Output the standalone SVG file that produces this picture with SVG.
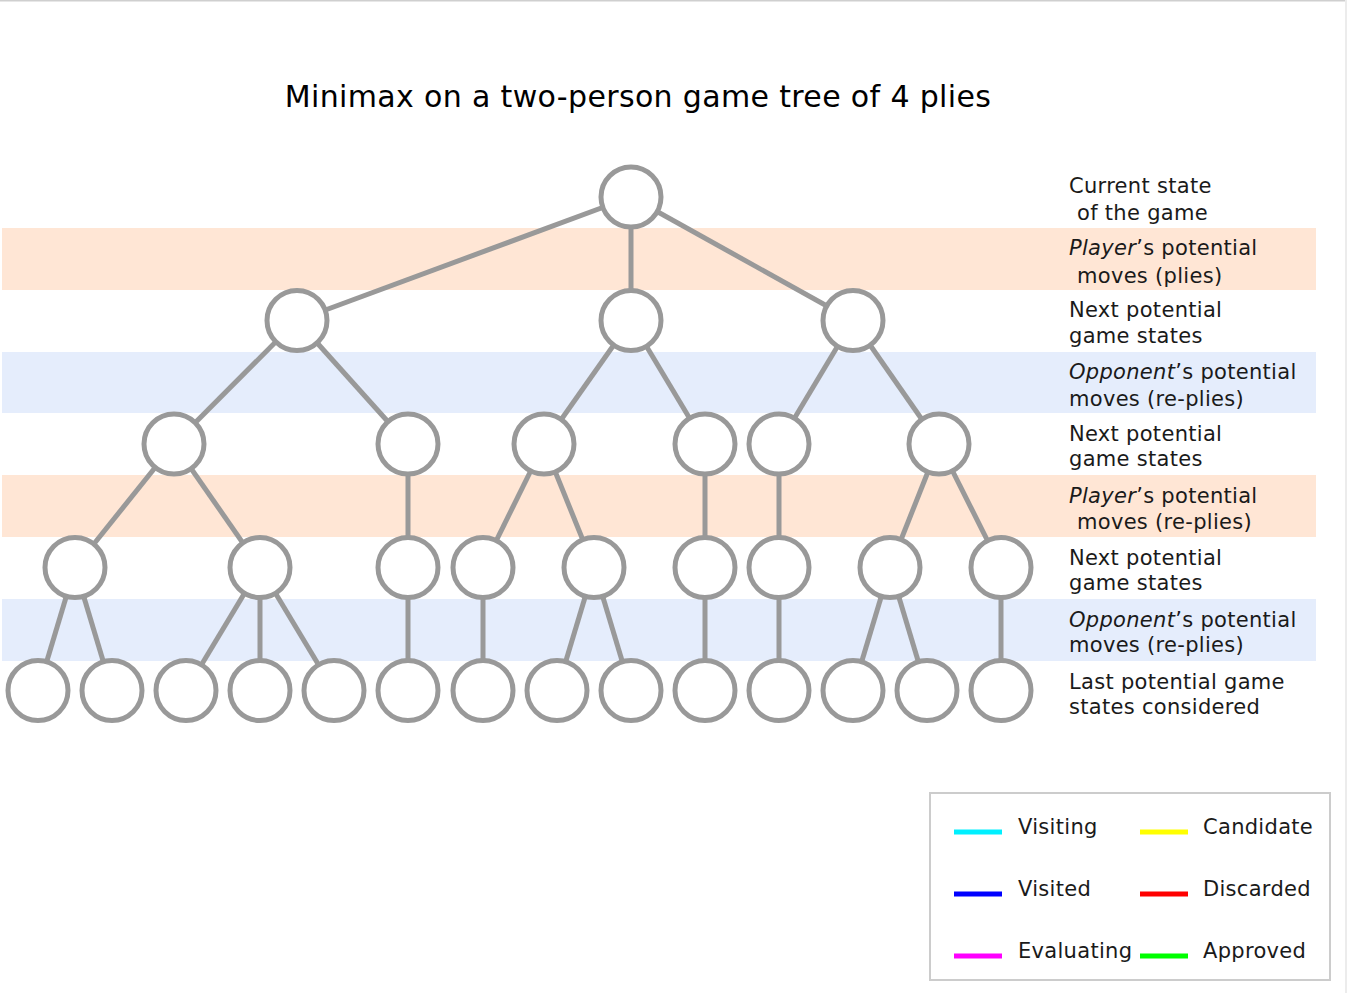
<svg xmlns="http://www.w3.org/2000/svg" width="1347" height="993" viewBox="0 0 1347 993">
<style>
.t{font-family:"DejaVu Sans",Verdana,sans-serif;font-size:21px;letter-spacing:0.3px;fill:#1a1a1a}
.title{font-family:"DejaVu Sans",Verdana,sans-serif;font-size:30px;letter-spacing:0.35px;fill:#000}
.i{font-style:italic}
.edge{stroke:#999;stroke-width:5;fill:none}
.node{fill:#fff;stroke:#999;stroke-width:5}
.orange{fill:#ffe6d5}
.blue{fill:#e5edfc}
.leg{stroke-width:5;fill:none}
</style>
<rect x="0" y="0" width="1347" height="993" fill="#fff"/>
<line x1="0" y1="0.5" x2="1345" y2="0.5" stroke="#cfcfcf" stroke-width="2"/>
<line x1="1346" y1="0" x2="1346" y2="993" stroke="#ececec" stroke-width="2"/>
<g id="bands">
<rect class="orange" x="2" y="228" width="1314" height="62"/>
<rect class="blue" x="2" y="352" width="1314" height="61"/>
<rect class="orange" x="2" y="475" width="1314" height="62"/>
<rect class="blue" x="2" y="599" width="1314" height="62"/>
</g>
<text id="title" class="title" x="638" y="107" text-anchor="middle">Minimax on a two-person game tree of 4 plies</text>
<g id="connectors">
<line class="edge" x1="631" y1="197" x2="297" y2="320.5"/>
<line class="edge" x1="631" y1="197" x2="631" y2="320.5"/>
<line class="edge" x1="631" y1="197" x2="853" y2="320.5"/>
<line class="edge" x1="297" y1="320.5" x2="174" y2="444"/>
<line class="edge" x1="297" y1="320.5" x2="408" y2="444"/>
<line class="edge" x1="631" y1="320.5" x2="544" y2="444"/>
<line class="edge" x1="631" y1="320.5" x2="705" y2="444"/>
<line class="edge" x1="853" y1="320.5" x2="779" y2="444"/>
<line class="edge" x1="853" y1="320.5" x2="939" y2="444"/>
<line class="edge" x1="174" y1="444" x2="75" y2="567.5"/>
<line class="edge" x1="174" y1="444" x2="260" y2="567.5"/>
<line class="edge" x1="408" y1="444" x2="408" y2="567.5"/>
<line class="edge" x1="544" y1="444" x2="483" y2="567.5"/>
<line class="edge" x1="544" y1="444" x2="594" y2="567.5"/>
<line class="edge" x1="705" y1="444" x2="705" y2="567.5"/>
<line class="edge" x1="779" y1="444" x2="779" y2="567.5"/>
<line class="edge" x1="939" y1="444" x2="890" y2="567.5"/>
<line class="edge" x1="939" y1="444" x2="1001" y2="567.5"/>
<line class="edge" x1="75" y1="567.5" x2="38" y2="690.5"/>
<line class="edge" x1="75" y1="567.5" x2="112" y2="690.5"/>
<line class="edge" x1="260" y1="567.5" x2="186" y2="690.5"/>
<line class="edge" x1="260" y1="567.5" x2="260" y2="690.5"/>
<line class="edge" x1="260" y1="567.5" x2="334" y2="690.5"/>
<line class="edge" x1="408" y1="567.5" x2="408" y2="690.5"/>
<line class="edge" x1="483" y1="567.5" x2="483" y2="690.5"/>
<line class="edge" x1="594" y1="567.5" x2="557" y2="690.5"/>
<line class="edge" x1="594" y1="567.5" x2="631" y2="690.5"/>
<line class="edge" x1="705" y1="567.5" x2="705" y2="690.5"/>
<line class="edge" x1="779" y1="567.5" x2="779" y2="690.5"/>
<line class="edge" x1="890" y1="567.5" x2="853" y2="690.5"/>
<line class="edge" x1="890" y1="567.5" x2="927" y2="690.5"/>
<line class="edge" x1="1001" y1="567.5" x2="1001" y2="690.5"/>
</g>
<g id="n0"><circle class="node" cx="631" cy="197" r="30"/></g>
<g id="n1a"><circle class="node" cx="297" cy="320.5" r="30"/></g>
<g id="n1b"><circle class="node" cx="631" cy="320.5" r="30"/></g>
<g id="n1c"><circle class="node" cx="853" cy="320.5" r="30"/></g>
<g id="n2a"><circle class="node" cx="174" cy="444" r="30"/></g>
<g id="n2b"><circle class="node" cx="408" cy="444" r="30"/></g>
<g id="n2c"><circle class="node" cx="544" cy="444" r="30"/></g>
<g id="n2d"><circle class="node" cx="705" cy="444" r="30"/></g>
<g id="n2e"><circle class="node" cx="779" cy="444" r="30"/></g>
<g id="n2f"><circle class="node" cx="939" cy="444" r="30"/></g>
<g id="n3a"><circle class="node" cx="75" cy="567.5" r="30"/></g>
<g id="n3b"><circle class="node" cx="260" cy="567.5" r="30"/></g>
<g id="n3c"><circle class="node" cx="408" cy="567.5" r="30"/></g>
<g id="n3d"><circle class="node" cx="483" cy="567.5" r="30"/></g>
<g id="n3e"><circle class="node" cx="594" cy="567.5" r="30"/></g>
<g id="n3f"><circle class="node" cx="705" cy="567.5" r="30"/></g>
<g id="n3g"><circle class="node" cx="779" cy="567.5" r="30"/></g>
<g id="n3h"><circle class="node" cx="890" cy="567.5" r="30"/></g>
<g id="n3i"><circle class="node" cx="1001" cy="567.5" r="30"/></g>
<g id="n4a"><circle class="node" cx="38" cy="690.5" r="30"/></g>
<g id="n4b"><circle class="node" cx="112" cy="690.5" r="30"/></g>
<g id="n4c"><circle class="node" cx="186" cy="690.5" r="30"/></g>
<g id="n4d"><circle class="node" cx="260" cy="690.5" r="30"/></g>
<g id="n4e"><circle class="node" cx="334" cy="690.5" r="30"/></g>
<g id="n4f"><circle class="node" cx="408" cy="690.5" r="30"/></g>
<g id="n4g"><circle class="node" cx="483" cy="690.5" r="30"/></g>
<g id="n4h"><circle class="node" cx="557" cy="690.5" r="30"/></g>
<g id="n4i"><circle class="node" cx="631" cy="690.5" r="30"/></g>
<g id="n4j"><circle class="node" cx="705" cy="690.5" r="30"/></g>
<g id="n4k"><circle class="node" cx="779" cy="690.5" r="30"/></g>
<g id="n4l"><circle class="node" cx="853" cy="690.5" r="30"/></g>
<g id="n4m"><circle class="node" cx="927" cy="690.5" r="30"/></g>
<g id="n4n"><circle class="node" cx="1001" cy="690.5" r="30"/></g>
<g id="labels">
<text class="t" x="1069" y="193">Current state</text>
<text class="t" x="1077" y="220">of the game</text>
<text class="t" x="1069" y="255"><tspan class="i">Player</tspan>’s potential</text>
<text class="t" x="1077" y="283">moves (plies)</text>
<text class="t" x="1069" y="317">Next potential</text>
<text class="t" x="1069" y="343">game states</text>
<text class="t" x="1069" y="379"><tspan class="i">Opponent</tspan>’s potential</text>
<text class="t" x="1069" y="406">moves (re-plies)</text>
<text class="t" x="1069" y="441">Next potential</text>
<text class="t" x="1069" y="466">game states</text>
<text class="t" x="1069" y="503"><tspan class="i">Player</tspan>’s potential</text>
<text class="t" x="1077" y="529">moves (re-plies)</text>
<text class="t" x="1069" y="565">Next potential</text>
<text class="t" x="1069" y="590">game states</text>
<text class="t" x="1069" y="627"><tspan class="i">Opponent</tspan>’s potential</text>
<text class="t" x="1069" y="652">moves (re-plies)</text>
<text class="t" x="1069" y="689">Last potential game</text>
<text class="t" x="1069" y="714">states considered</text>
</g>
<g id="legend">
<rect x="930" y="793" width="400" height="187" fill="#fff" stroke="#cccccc" stroke-width="2"/>
<line class="leg" x1="954" y1="832" x2="1002" y2="832" stroke="#00f0ff"/>
<line class="leg" x1="954" y1="894" x2="1002" y2="894" stroke="#0000ff"/>
<line class="leg" x1="954" y1="956" x2="1002" y2="956" stroke="#ff00ff"/>
<line class="leg" x1="1140" y1="832" x2="1188" y2="832" stroke="#ffff00"/>
<line class="leg" x1="1140" y1="894" x2="1188" y2="894" stroke="#ff0000"/>
<line class="leg" x1="1140" y1="956" x2="1188" y2="956" stroke="#00ff00"/>
<text class="t" x="1018" y="834">Visiting</text>
<text class="t" x="1018" y="896">Visited</text>
<text class="t" x="1018" y="958">Evaluating</text>
<text class="t" x="1203" y="834">Candidate</text>
<text class="t" x="1203" y="896">Discarded</text>
<text class="t" x="1203" y="958">Approved</text>
</g>
</svg>
